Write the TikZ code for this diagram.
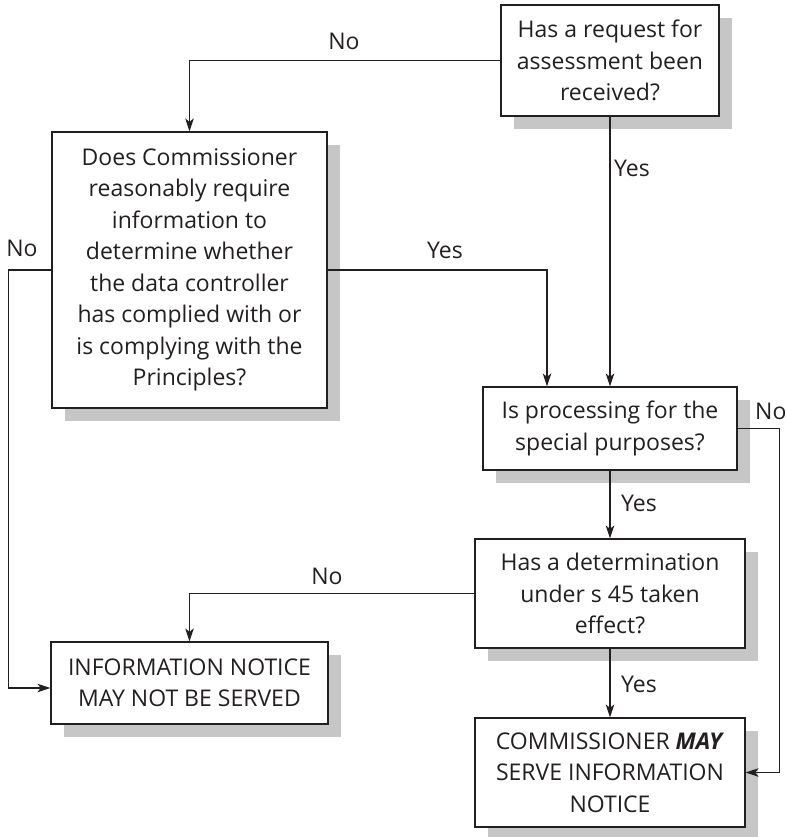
\documentclass[tikz,border=0pt]{standalone}
\usepackage{fontspec}
\setmainfont{Open Sans}
\usetikzlibrary{arrows.meta,shadows}

\definecolor{ink}{HTML}{231F20}
\definecolor{shade}{HTML}{C6C6C6}

\tikzset{
  box/.style={draw=ink, line width=1.2pt, fill=white, text=ink, align=center,
    inner sep=0pt, font=\fontsize{23}{31.5}\selectfont,
    drop shadow={shadow xshift=13pt, shadow yshift=-13pt, fill=shade, opacity=1}},
  arr/.style={draw=ink, line width=1.2pt,
    -{Stealth[length=13pt, width=8.5pt, inset=3.5pt]}},
  lbl/.style={text=ink, font=\fontsize{23}{31.5}\selectfont, inner sep=0pt}
}

\begin{document}
\begin{tikzpicture}[x=1pt, y=-1pt]
  \useasboundingbox (0,0) rectangle (785,837);

  % decision and outcome boxes
  \node[box, minimum width=218pt, minimum height=111pt] (A) at (610,60.5)
    {Has a request for\\assessment been\\received?};
  \node[box, minimum width=275pt, minimum height=276pt] (B) at (189.5,270)
    {Does Commissioner\\reasonably require\\information to\\determine whether\\the data controller\\has complied with or\\is complying with the\\Principles?};
  \node[box, minimum width=254pt, minimum height=83pt] (C) at (610,428.5)
    {Is processing for the\\special purposes?};
  \node[box, minimum width=270pt, minimum height=109pt] (D) at (610,593.5)
    {Has a determination\\under s 45 taken\\effect?};
  \node[box, minimum width=277pt, minimum height=82pt] (F) at (189.5,683)
    {INFORMATION NOTICE\\MAY NOT BE SERVED};
  \node[box, minimum width=270pt, minimum height=109pt] (E) at (610,772.5)
    {COMMISSIONER \textbf{\textit{MAY}}\\SERVE INFORMATION\\NOTICE};

  % connectors
  \draw[arr] (A.west) -| (B.north);
  \draw[arr] (A.south) -- (A.south |- C.north);
  \draw[arr] (B.east) -| ([xshift=-63pt]C.north);
  \draw[arr] (B.west) -- ++(-43,0) |- ([yshift=-5pt]F.west);
  \draw[arr] (C.east) -- ++(42,0) |- (E.east);
  \draw[arr] (C.south) -- (D.north);
  \draw[arr] (D.west) -| (F.north);
  \draw[arr] (D.south) -- (E.north);

  % connector labels
  \node[lbl] (n1) at (344,41) {No};
  \node[lbl, anchor=west] (y1) at (614,168) {Yes};
  \node[lbl] (y2) at (445,250) {Yes};
  \node[lbl] (n2) at (22,248) {No};
  \node[lbl, anchor=west] (n3) at (755,411) {No};
  \node[lbl, anchor=west] (y3) at (621,503) {Yes};
  \node[lbl] (n4) at (327,576) {No};
  \node[lbl, anchor=west] (y4) at (621,684) {Yes};
\end{tikzpicture}
\end{document}
